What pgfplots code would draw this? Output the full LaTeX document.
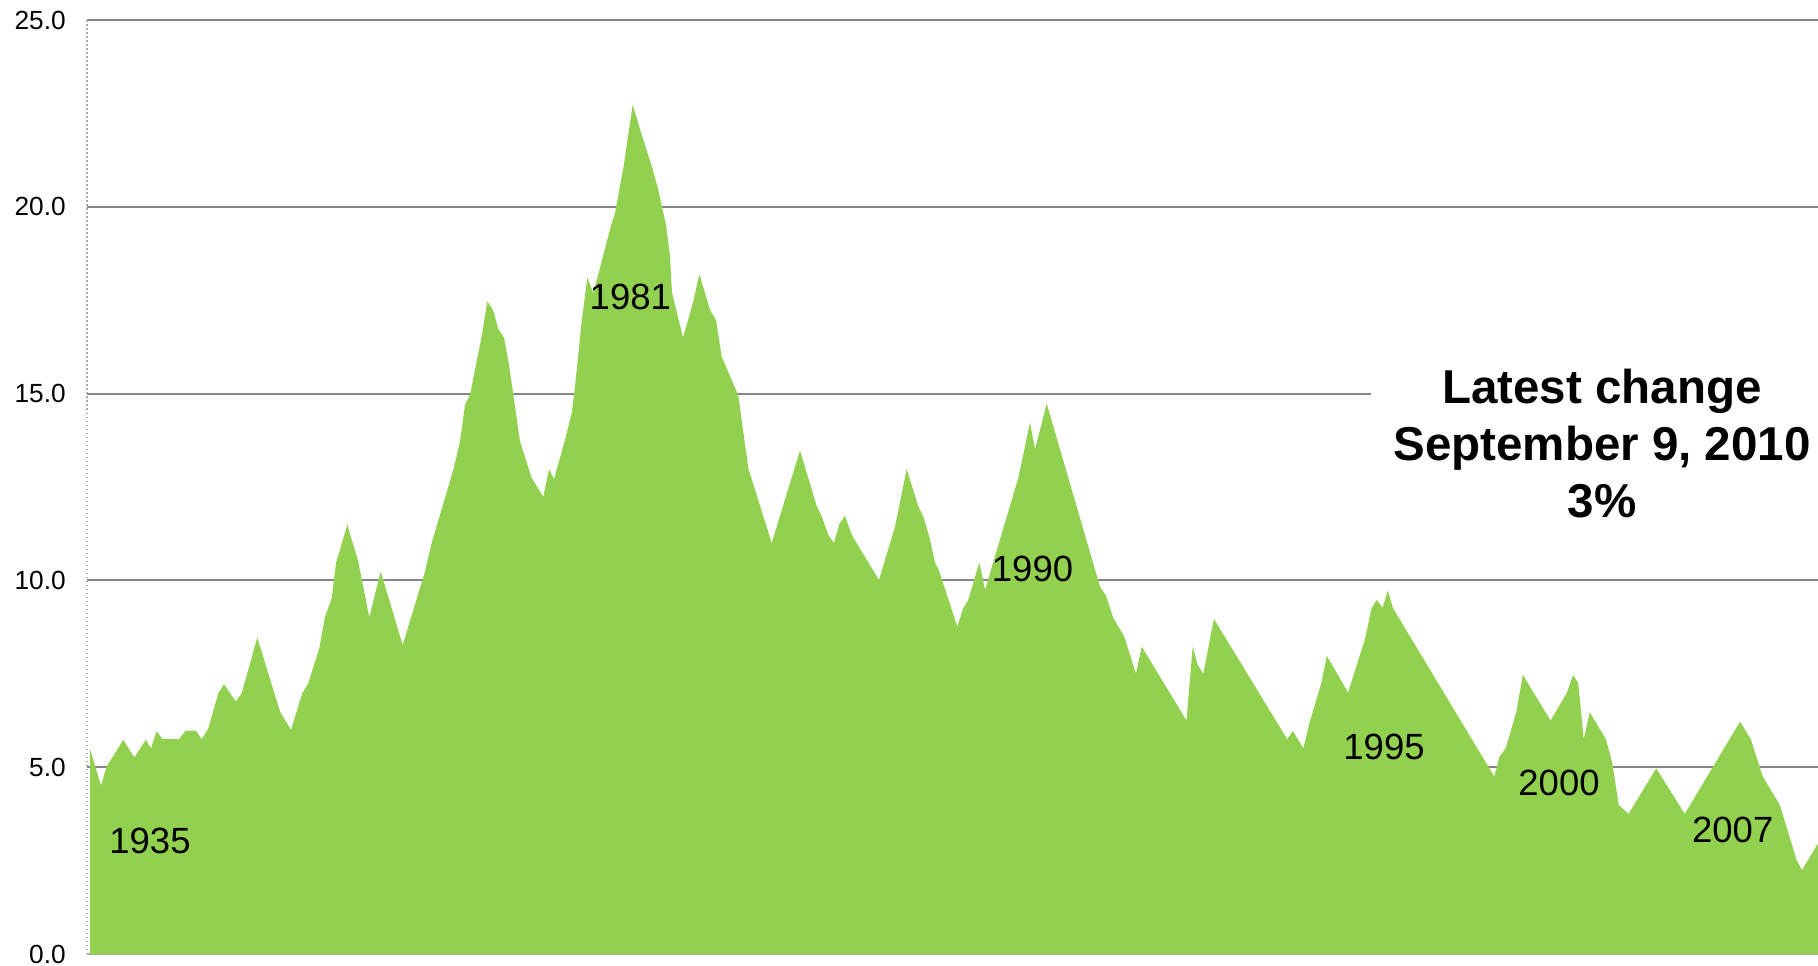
\documentclass[border=0pt]{standalone}
\usepackage{pgfplots}
\pgfplotsset{compat=1.18}
\usepackage{fontspec}
\setmainfont{Liberation Sans}

\definecolor{areagreen}{RGB}{146,208,80}
\definecolor{gridgray}{RGB}{134,134,134}
\definecolor{axisgray}{RGB}{170,170,170}

\begin{document}
\begin{tikzpicture}
\begin{axis}[
    at={(34.8pt,4.4pt)}, anchor=south west,
    scale only axis,
    width=692.4pt, height=373.6pt,
    xmin=87, xmax=1818,
    ymin=0, ymax=25,
    xtick=\empty,
    ytick={0,5,10,15,20,25},
    axis x line=bottom, axis y line=left,
    x axis line style={-, draw=axisgray, line width=0.8pt},
    y axis line style={-, draw=axisgray, densely dotted, line width=0.6pt},
    major tick length=0pt,
    ymajorgrids=true,
    grid style={gridgray, line width=0.8pt},
    yticklabel style={font=\fontsize{10.5}{12}\selectfont, xshift=-5pt,
        /pgf/number format/.cd, fixed, fixed zerofill, precision=1, assume math mode=true},
    clip=false,
]
\addplot[fill=areagreen, draw=none] coordinates {
(90,5.49) (101,4.51) (106.7,5.02) (123.3,5.73) (134.3,5.26) (145.7,5.73)
(151,5.51) (156.7,5.97) (162.3,5.75) (179,5.75) (185.7,5.98) (195.7,5.98)
(201.7,5.75) (208.3,6.04) (218.3,6.98) (224,7.22) (235.7,6.76) (241.7,6.98)
(257.3,8.47) (280,6.49) (291,6.0) (302.3,6.98) (308.3,7.25) (319.3,8.18)
(325,9.03) (331.7,9.52) (336,10.46) (347.3,11.49) (358.3,10.5) (369.3,9.01)
(380.7,10.24) (402.7,8.27) (425,10.24) (431.7,11.0) (453.3,12.96) (460,13.72)
(465,14.7) (470,14.97) (481.7,16.53) (487.3,17.47) (493.3,17.22) (498.3,16.73)
(504,16.5) (509.3,15.72) (520,13.72) (531.7,12.74) (543.3,12.24) (549,12.98)
(554,12.71) (564.3,13.69) (571.7,14.47) (575,15.19) (581.7,16.93) (587.3,18.1)
(593.3,17.69) (601,18.47) (610.7,19.47) (615,19.83) (623.3,21.03) (632.7,22.73)
(641.7,21.93) (653.3,20.95) (658.3,20.45) (666,19.52) (670,18.67) (672,17.7)
(683,16.5) (693.3,17.46) (699.3,18.2) (710,17.24) (716,16.97) (721.7,15.99)
(738.3,14.95) (748.3,13.0) (771.7,11.0) (800,13.48) (816.7,11.99) (821.7,11.71)
(828.3,11.22) (834,11.0) (839.3,11.51) (845,11.73) (851.7,11.22) (879,10.01)
(895,11.44) (906.7,12.98) (918.3,11.98) (923.3,11.71) (929.3,11.17) (935,10.48)
(939.3,10.24) (957.3,8.76) (963.3,9.26) (968.3,9.48) (979.3,10.48) (985,9.75)
(1018.3,12.74) (1030,14.23) (1035,13.51) (1046.7,14.73) (1100,9.83) (1106,9.59)
(1113.3,8.99) (1124,8.51) (1136,7.5) (1141.7,8.23) (1186.5,6.25) (1192.7,8.23)
(1197.7,7.74) (1203.3,7.5) (1213.9,8.97) (1287.2,5.75) (1292.7,5.97) (1303.4,5.51)
(1309.8,6.22) (1321.3,7.25) (1326.8,7.98) (1348.1,7.0) (1365.2,8.45) (1371.6,9.26)
(1376.7,9.48) (1382.6,9.26) (1387.8,9.73) (1392.9,9.26) (1494.3,4.75) (1499.4,5.28)
(1505.8,5.51) (1516.4,6.49) (1522.8,7.47) (1550.5,6.25) (1566.7,6.98) (1573.1,7.47)
(1578.2,7.25) (1583.7,5.75) (1589.7,6.47) (1605.9,5.75) (1612.3,5.11) (1618.7,3.99)
(1628.5,3.75) (1656.2,4.97) (1684.7,3.75) (1740.1,6.22) (1750.8,5.75) (1762.7,4.75)
(1779.8,3.99) (1796.8,2.5) (1801.9,2.25) (1818,2.96)
} \closedcycle;

% year labels
\begin{scope}[every node/.style={font=\fontsize{14.6}{17}\selectfont, inner sep=0pt}]
\node at (axis cs:150,3.02) {1935};
\node at (axis cs:630.3,17.59) {1981};
\node at (axis cs:1032.5,10.31) {1990};
\node at (axis cs:1384,5.53) {1995};
\node at (axis cs:1559,4.58) {2000};
\node at (axis cs:1732.7,3.33) {2007};
\end{scope}

% text box
\fill[white] (axis cs:1371,12.5) rectangle (axis cs:1818,17.5);
\node[align=center, inner sep=0pt, font=\fontsize{19}{22.8}\selectfont\bfseries]
    at (axis cs:1602,13.65) {Latest change\\September 9, 2010\\3\%};
\end{axis}
\pgfresetboundingbox
\path (0,0) rectangle (727.2pt,386pt);
\end{tikzpicture}
\end{document}
